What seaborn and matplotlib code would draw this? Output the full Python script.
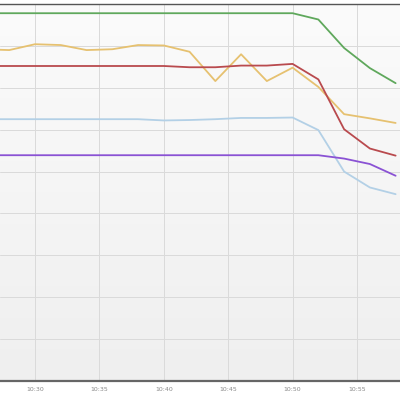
import numpy as np
import pandas as pd
import matplotlib
matplotlib.use("Agg")
import matplotlib.pyplot as plt
from matplotlib.colors import LinearSegmentedColormap
import seaborn as sns

minutes = [26, 28, 30, 32, 34, 36, 38, 40, 42, 44, 46, 48, 50, 52, 54, 56, 58]
green = [8.78] * 13 + [8.63, 7.95, 7.47, 7.11]
yellow = [7.92, 7.90, 8.04, 8.02, 7.90, 7.92, 8.02, 8.01, 7.86, 7.16, 7.80, 7.16,
          7.48, 7.02, 6.37, 6.27, 6.16]
red = [7.52] * 8 + [7.49, 7.49, 7.53, 7.53, 7.57, 7.20, 6.01, 5.55, 5.38]
blue = [6.25] * 7 + [6.22, 6.23, 6.25, 6.28, 6.28, 6.29, 5.99, 5.00, 4.62, 4.46]
purple = [5.39] * 14 + [5.31, 5.18, 4.90]

tick_labels = ["10:30", "10:35", "10:40", "10:45", "10:50", "10:55"]

series = {"green": green, "yellow": yellow, "red": red, "blue": blue, "purple": purple}
colors = {"green": "#5fa85c", "yellow": "#e6c170", "red": "#b94a4e",
          "blue": "#b3d0e6", "purple": "#8a52d4"}

rows = []
for name, vals in series.items():
    for m, v in zip(minutes, vals):
        rows.append({"minute": m, "value": v, "series": name})
df = pd.DataFrame(rows)

sns.set_style("white")
fig = plt.figure(figsize=(4, 4), dpi=100)
ax = fig.add_axes([0, 1 - 381 / 400, 1, 377 / 400])

xlo, xhi = 27.28, 58.34
cmap = LinearSegmentedColormap.from_list("bg", ["#fbfbfb", "#efefef"])
ax.imshow(np.linspace(0, 1, 256).reshape(-1, 1), cmap=cmap, aspect="auto",
          extent=[xlo, xhi, 0, 9], origin="upper", zorder=0)

sns.lineplot(data=df, x="minute", y="value", hue="series", palette=colors,
             legend=False, linewidth=1.3, ax=ax, zorder=3)

ax.set_xlim(xlo, xhi)
ax.set_ylim(0, 9)
tick_pos = [int(t.split(":")[1]) for t in tick_labels]
ax.set_xticks(tick_pos)
ax.set_xticklabels(tick_labels, fontsize=4.5, color="#888888")
ax.set_yticks(np.arange(0, 10, 1))
ax.set_yticklabels([])
ax.tick_params(axis="both", length=0, pad=4)
ax.grid(True, color="#dadada", linewidth=0.7, zorder=1)
ax.set_xlabel("")
ax.set_ylabel("")
for s in ["left", "right"]:
    ax.spines[s].set_visible(False)
ax.spines["top"].set_color("#555555")
ax.spines["top"].set_linewidth(1.0)
ax.spines["bottom"].set_color("#666666")
ax.spines["bottom"].set_linewidth(1.6)

fig.savefig("out.png", dpi=100, facecolor="white")
